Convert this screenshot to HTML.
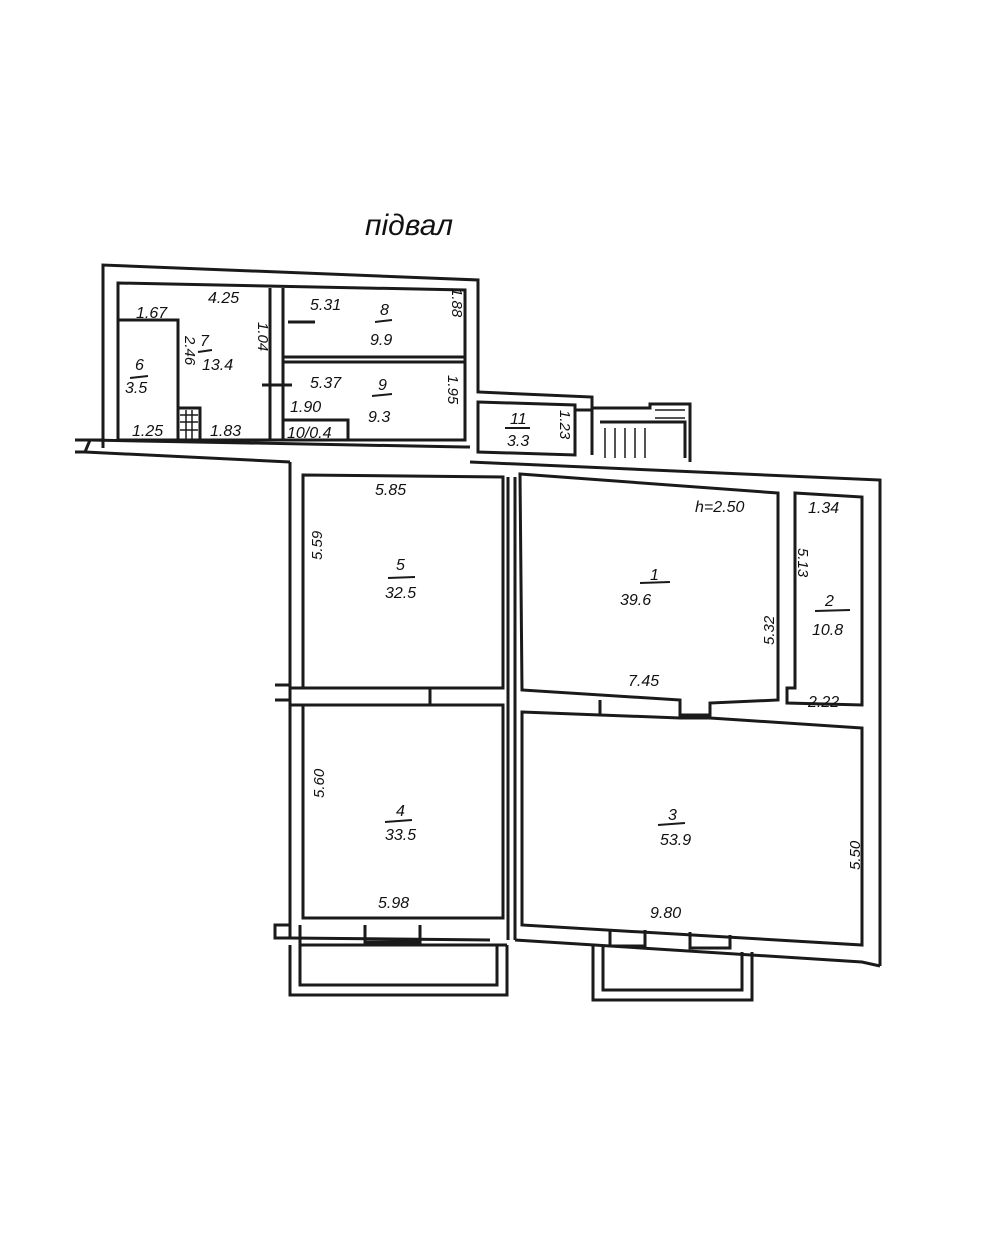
<!DOCTYPE html>
<html><head><meta charset="utf-8"><style>
body{margin:0;background:#fff}
svg{display:block}
text{font-family:"Liberation Sans",sans-serif;font-style:italic;fill:#111}
</style></head><body>
<svg width="990" height="1241" viewBox="0 0 990 1241" xmlns="http://www.w3.org/2000/svg">
<rect width="990" height="1241" fill="#fff"/>
<g fill="none" stroke="#1a1a1a" stroke-width="3">
<path d="M103,448 L103,265 L478,280 L478,392 L592,397 L592,408 L650,408 L650,404 L690,404 L690,462"/>
<path d="M75,440 L90,440 L85,452 L75,452"/>
<path d="M90,440 L103,440"/>
<path d="M85,452 L290,462"/>
<path d="M90,440 L465,447 L470,447"/>
<path d="M118,283 L465,290 L465,440 L118,440 Z"/>
<path d="M118,320 L178,320 L178,440"/>
<path d="M270,288 L270,440 M283,288 L283,440"/>
<path d="M283,357 L465,357 M283,362 L465,362"/>
<path d="M288,322 L315,322"/>
<path d="M262,385 L292,385"/>
<path d="M178,408 L200,408 L200,440"/>
<path d="M283,420 L348,420 L348,440"/>
<path d="M478,402 L575,405 L575,455 L478,452 Z"/>
<path d="M576,410 L592,410 L592,455"/>
<path d="M600,422 L685,422 L685,458"/>
<path d="M290,462 L290,938 L275,938 L275,925 L290,925"/>
<path d="M470,462 L880,480 L880,966"/>
<path d="M275,685 L290,685 L290,700 L275,700"/>
<path d="M303,475 L503,477 L503,688 L303,688 Z"/>
<path d="M520,474 L778,493 L778,700 L710,703 L710,715 L680,715 L680,700 L522,690 Z"/>
<path d="M508,477 L508,940 M515,477 L515,940"/>
<path d="M795,493 L862,497 L862,705 L787,703 L787,688 L795,688 Z"/>
<path d="M303,705 L503,705 L503,918 L303,918 Z"/>
<path d="M522,712 L680,718 L710,718 L862,728 L862,945 L522,925 Z"/>
<path d="M290,938 L490,940 M300,925 L300,945 L507,945"/>
<path d="M515,940 L862,962 L880,966"/>
<path d="M365,925 L365,942 L420,942 L420,925"/>
<path d="M290,945 L290,995 L507,995 L507,945 M300,945 L300,985 L497,985 L497,945"/>
<path d="M593,945 L593,1000 L752,1000 L752,952 M603,947 L603,990 L742,990 L742,952"/>
<path d="M610,930 L610,946 L645,946 L645,930 M690,932 L690,948 L730,948 L730,935"/>
<path d="M290,688 L303,688 M290,705 L303,705 M430,688 L430,705 M600,700 L600,716"/>
</g>
<g stroke="#1a1a1a" stroke-width="1.5">
<path d="M180,415 L198,415 M180,422 L198,422 M180,430 L198,430 M186,410 L186,440 M192,410 L192,440"/>
<path d="M605,428 L605,458 M615,428 L615,458 M625,428 L625,458 M635,428 L635,458 M645,428 L645,458 M655,410 L685,410 M655,418 L685,418"/>
</g>
<g stroke="#1a1a1a" stroke-width="2">
<path d="M130,378 L148,376 M198,352 L212,350 M375,322 L392,320 M372,396 L392,394 M505,428 L530,428 M388,578 L415,577 M640,583 L670,582 M815,611 L850,610 M385,822 L412,820 M658,825 L685,823"/>
</g>
<text x="365" y="235" font-size="30">підвал</text>
<g font-size="16">
<text x="136" y="318">1.67</text><text x="208" y="303">4.25</text>
<text x="310" y="310">5.31</text><text x="380" y="315">8</text><text x="370" y="345">9.9</text>
<text x="135" y="370">6</text><text x="125" y="393">3.5</text>
<text x="200" y="346">7</text><text x="202" y="370">13.4</text>
<text x="310" y="388">5.37</text><text x="378" y="390">9</text><text x="368" y="422">9.3</text>
<text x="290" y="412">1.90</text><text x="287" y="438">10/0.4</text>
<text x="132" y="436">1.25</text><text x="210" y="436">1.83</text>
<text x="510" y="424">11</text><text x="507" y="446">3.3</text>
<text x="375" y="495">5.85</text><text x="396" y="570">5</text><text x="385" y="598">32.5</text>
<text x="695" y="512">h=2.50</text><text x="808" y="513">1.34</text>
<text x="650" y="580">1</text><text x="620" y="605">39.6</text>
<text x="825" y="606">2</text><text x="812" y="635">10.8</text>
<text x="628" y="686">7.45</text><text x="808" y="707">2.22</text>
<text x="396" y="816">4</text><text x="385" y="840">33.5</text>
<text x="668" y="820">3</text><text x="660" y="845">53.9</text>
<text x="378" y="908">5.98</text><text x="650" y="918">9.80</text>
</g>
<g font-size="15">
<text transform="translate(322,560) rotate(-90)">5.59</text>
<text transform="translate(324,798) rotate(-90)">5.60</text>
<text transform="translate(774,645) rotate(-90)">5.32</text>
<text transform="translate(860,870) rotate(-90)">5.50</text>
<text transform="translate(452,288) rotate(90)">1.88</text>
<text transform="translate(448,375) rotate(90)">1.95</text>
<text transform="translate(258,322) rotate(90)">1.04</text>
<text transform="translate(185,336) rotate(90)">2.46</text>
<text transform="translate(560,410) rotate(90)">1.23</text>
<text transform="translate(798,548) rotate(90)">5.13</text>
</g>
</svg>
</body></html>
